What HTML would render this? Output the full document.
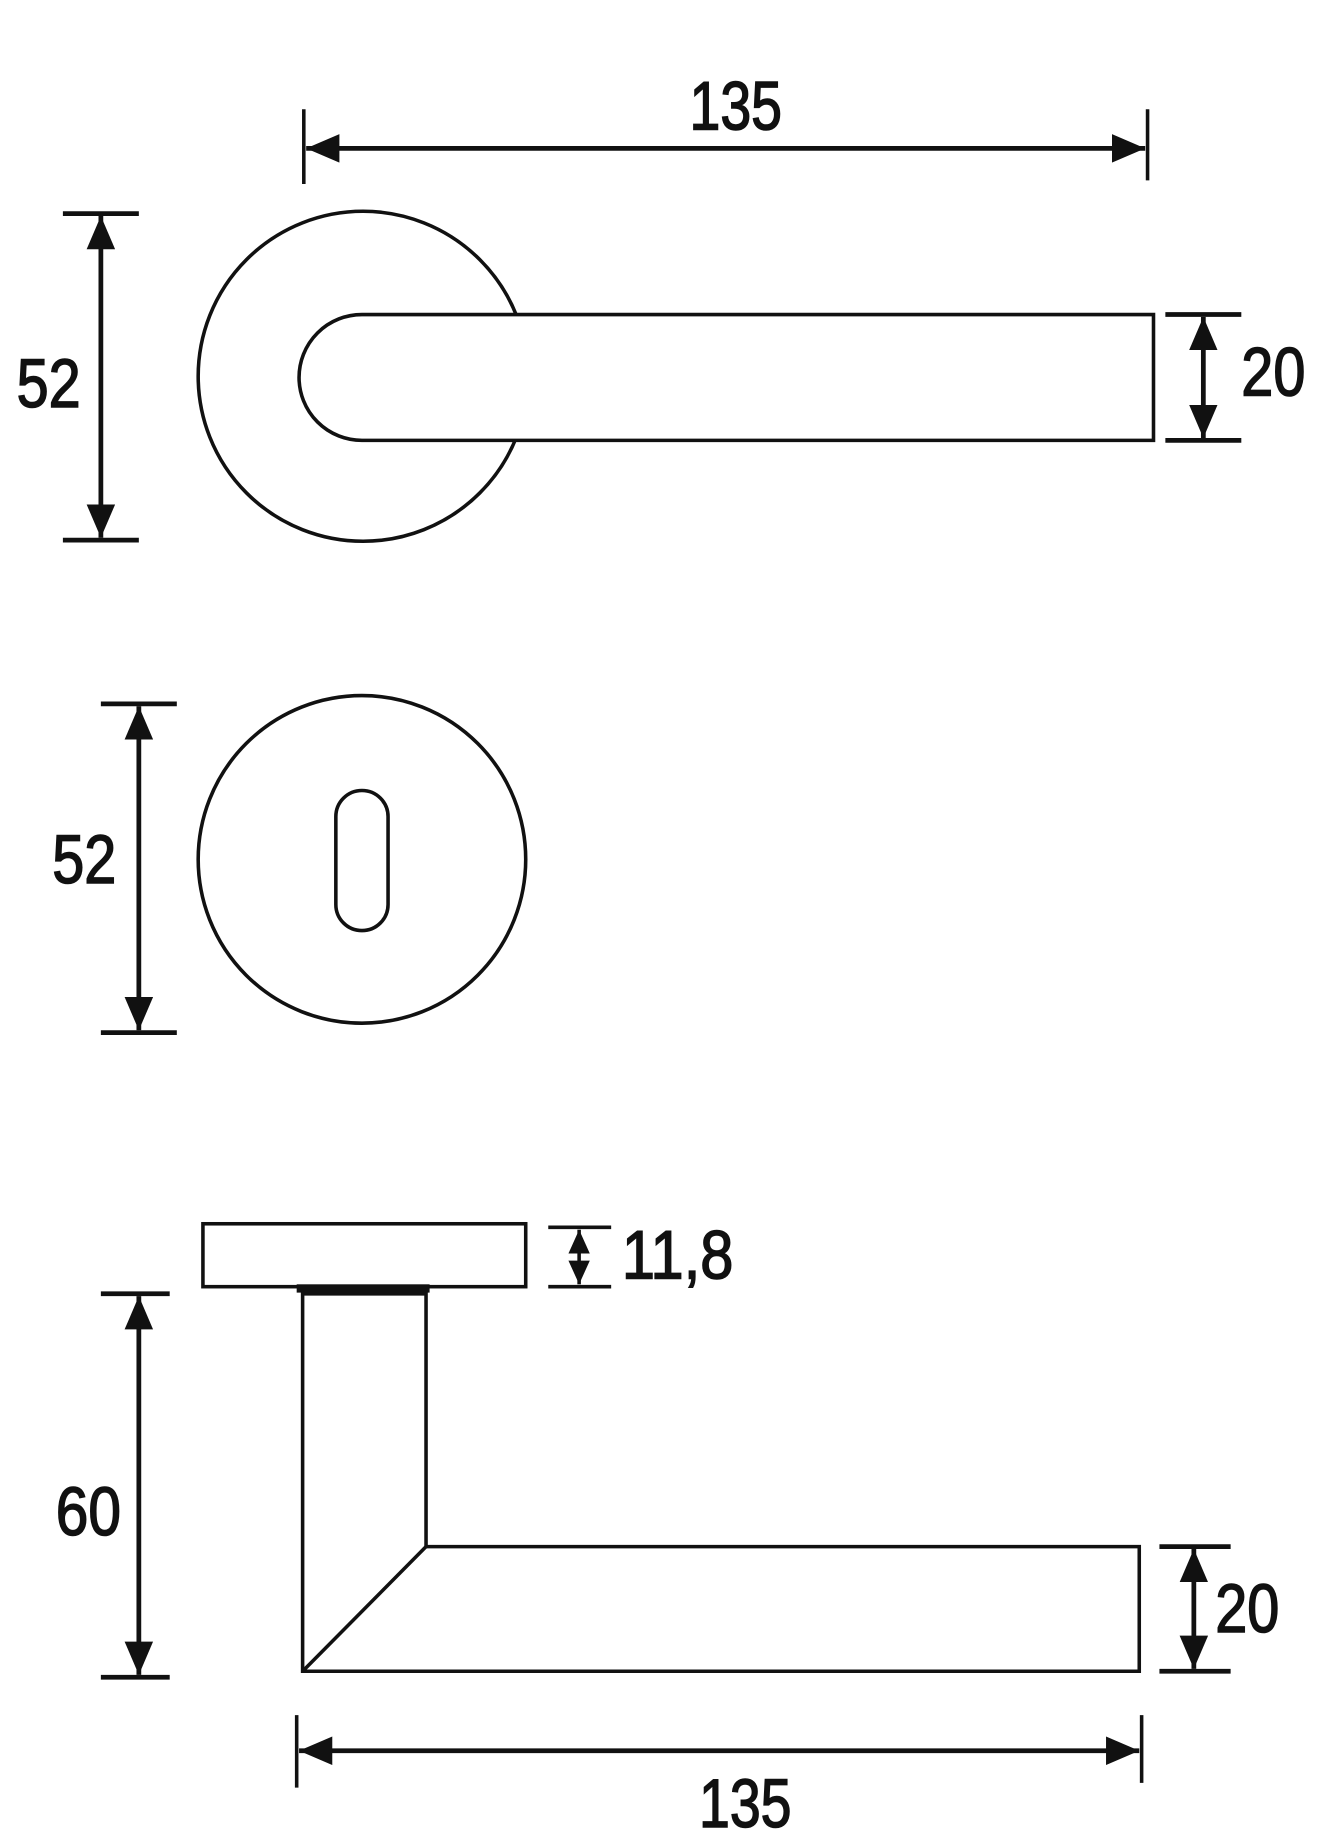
<!DOCTYPE html>
<html><head><meta charset="utf-8"><style>
html,body{margin:0;padding:0;background:#fff;}
svg{display:block;}
text{font-family:"Liberation Sans",sans-serif;font-size:58px;fill:#111;stroke:#111;stroke-width:1.3;}
</style></head><body>
<svg width="1341" height="1841" viewBox="0 0 1130 1551" preserveAspectRatio="none" xmlns="http://www.w3.org/2000/svg">
<defs>
<marker id="a" viewBox="0 0 28 24" refX="28" refY="12" markerWidth="28" markerHeight="24" markerUnits="userSpaceOnUse" orient="auto-start-reverse">
<path d="M0,0 L28,12 L0,24 z" fill="#111"/></marker>
<marker id="b" viewBox="0 0 20 18" refX="20" refY="9" markerWidth="20" markerHeight="18" markerUnits="userSpaceOnUse" orient="auto-start-reverse">
<path d="M0,0 L20,9 L0,18 z" fill="#111"/></marker>
</defs>
<g stroke="#111" fill="none" stroke-width="3">
<circle cx="306" cy="317" r="139" fill="#fff"/>
<path d="M305,265 L972,265 L972,371 L305,371 A53,53 0 0 1 305,265 z" fill="#fff"/>
<line x1="256" y1="92" x2="256" y2="155"/>
<line x1="967" y1="92" x2="967" y2="152"/>
<line x1="258" y1="125" x2="965" y2="125" stroke-width="4" marker-start="url(#a)" marker-end="url(#a)"/>
<line x1="53" y1="180" x2="117" y2="180" stroke-width="4"/>
<line x1="53" y1="455" x2="117" y2="455" stroke-width="4"/>
<line x1="85" y1="182" x2="85" y2="453" stroke-width="4" marker-start="url(#a)" marker-end="url(#a)"/>
<line x1="982" y1="265" x2="1046" y2="265" stroke-width="4"/>
<line x1="982" y1="371" x2="1046" y2="371" stroke-width="4"/>
<line x1="1014" y1="267" x2="1014" y2="369" stroke-width="4" marker-start="url(#a)" marker-end="url(#a)"/>

<circle cx="305" cy="724" r="138"/>
<rect x="283" y="666" width="44" height="118" rx="22"/>
<line x1="85" y1="593" x2="149" y2="593" stroke-width="4"/>
<line x1="85" y1="870" x2="149" y2="870" stroke-width="4"/>
<line x1="117" y1="595" x2="117" y2="868" stroke-width="4" marker-start="url(#a)" marker-end="url(#a)"/>

<rect x="171" y="1031" width="272" height="53"/>
<rect x="250" y="1082" width="112" height="7" fill="#111" stroke="none"/>
<path d="M255,1090 L359,1090 L359,1303 L960,1303 L960,1408 L255,1408 z"/>
<line x1="255" y1="1408" x2="359" y2="1303"/>
<line x1="462" y1="1034" x2="515" y2="1034"/>
<line x1="462" y1="1084" x2="515" y2="1084"/>
<line x1="488" y1="1036" x2="488" y2="1082" marker-start="url(#b)" marker-end="url(#b)"/>
<line x1="85" y1="1090" x2="143" y2="1090" stroke-width="4"/>
<line x1="85" y1="1413" x2="143" y2="1413" stroke-width="4"/>
<line x1="117" y1="1092" x2="117" y2="1411" stroke-width="4" marker-start="url(#a)" marker-end="url(#a)"/>
<line x1="977" y1="1303" x2="1037" y2="1303" stroke-width="4"/>
<line x1="977" y1="1408" x2="1037" y2="1408" stroke-width="4"/>
<line x1="1006" y1="1305" x2="1006" y2="1406" stroke-width="4" marker-start="url(#a)" marker-end="url(#a)"/>
<line x1="250" y1="1445" x2="250" y2="1506"/>
<line x1="962" y1="1445" x2="962" y2="1502"/>
<line x1="252" y1="1475" x2="960" y2="1475" stroke-width="4" marker-start="url(#a)" marker-end="url(#a)"/>
</g>
<g>
<text x="581" y="109" textLength="78" lengthAdjust="spacingAndGlyphs">135</text>
<text x="14" y="343" textLength="54" lengthAdjust="spacingAndGlyphs">52</text>
<text x="1046" y="333" textLength="54" lengthAdjust="spacingAndGlyphs">20</text>
<text x="44" y="744" textLength="54" lengthAdjust="spacingAndGlyphs">52</text>
<text x="524" y="1077" textLength="94" lengthAdjust="spacingAndGlyphs">11,8</text>
<text x="47" y="1293" textLength="55" lengthAdjust="spacingAndGlyphs">60</text>
<text x="1024" y="1375" textLength="54" lengthAdjust="spacingAndGlyphs">20</text>
<text x="589" y="1539" textLength="78" lengthAdjust="spacingAndGlyphs">135</text>
</g>
</svg>
</body></html>
